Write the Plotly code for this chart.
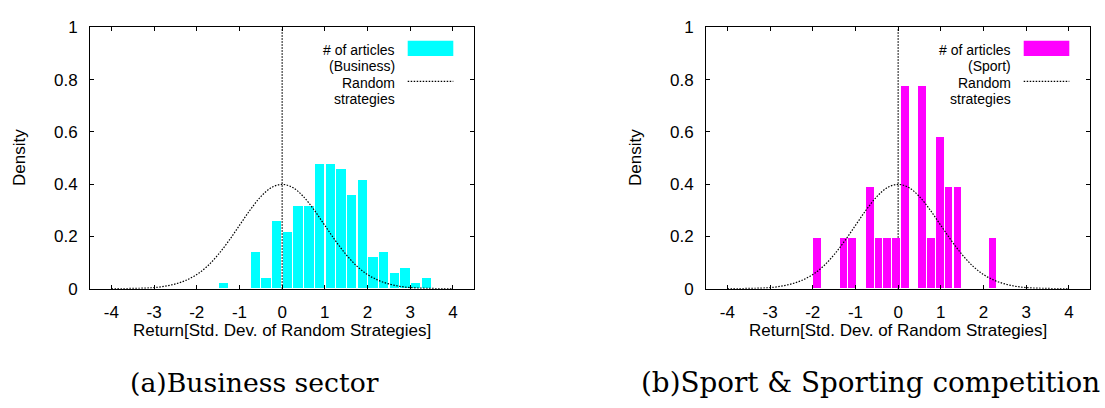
import plotly.graph_objects as go

W, H = 1105, 408

# ---------------- data ----------------
# Business sector histogram (bin width 0.25)
BUS_BIN_W = 0.25
bus_x = [-1.375, -0.625, -0.375, -0.125, 0.125, 0.375, 0.625, 0.875, 1.125,
         1.375, 1.625, 1.875, 2.125, 2.375, 2.625, 2.875, 3.125, 3.375]
bus_density = [0.019, 0.137, 0.038, 0.257, 0.217, 0.316, 0.316, 0.476, 0.476,
               0.456, 0.357, 0.416, 0.118, 0.137, 0.058, 0.078, 0.019, 0.038]

# Sport histogram (bin width ~0.205)
SPO_BIN_W = 0.205
spo_x = [-1.894, -1.279, -1.074, -0.664, -0.459, -0.254, -0.049, 0.156,
         0.566, 0.771, 0.976, 1.181, 1.386, 2.206]
spo_density = [0.193, 0.193, 0.193, 0.387, 0.193, 0.193, 0.193, 0.773,
               0.773, 0.193, 0.580, 0.387, 0.387, 0.193]

# Random strategies density curve
rand_x = [-4.0, -3.75, -3.5, -3.25, -3.0, -2.75, -2.5, -2.25, -2.0, -1.75,
          -1.5, -1.25, -1.0, -0.75, -0.5, -0.25, 0.0, 0.25, 0.5, 0.75, 1.0,
          1.25, 1.5, 1.75, 2.0, 2.25, 2.5, 2.75, 3.0, 3.25, 3.5, 3.75, 4.0]
rand_y = [0.000, 0.000, 0.001, 0.002, 0.004, 0.009, 0.018, 0.032, 0.054, 0.086,
          0.130, 0.183, 0.242, 0.301, 0.352, 0.387, 0.399, 0.387, 0.352, 0.301,
          0.242, 0.183, 0.130, 0.086, 0.054, 0.032, 0.018, 0.009, 0.004, 0.002,
          0.001, 0.000, 0.000]

x_tick_vals = [-4, -3, -2, -1, 0, 1, 2, 3, 4]
x_tick_text = ["-4", "-3", "-2", "-1", "0", "1", "2", "3", "4"]
y_tick_vals = [0, 0.2, 0.4, 0.6, 0.8, 1]
y_tick_text = ["0", "0.2", "0.4", "0.6", "0.8", "1"]

x_title = "Return[Std. Dev. of Random Strategies]"
y_title = "Density"
captions = ["(a)Business sector", "(b)Sport &amp; Sporting competition"]
legend_hist = [["# of articles", "(Business)"], ["# of articles", "(Sport)"]]
legend_rand = ["Random", "strategies"]

# ---------------- layout helpers ----------------
def px(xp):
    return xp / W

def py(yp):
    return 1 - yp / H

SANS = "Liberation Sans, Arial, Helvetica, sans-serif"
SERIF = "DejaVu Serif, serif"
AX_FS = 17
LEG_FS = 14
DOT = "1.5px,1.5px"

panels = [
    dict(left=90, right=474.3, color="#00FFFF", x=bus_x, y=bus_density, bw=BUS_BIN_W,
         cap_x=254, cap_fs=26.7),
    dict(left=706, right=1090.3, color="#FF00FF", x=spo_x, y=spo_density, bw=SPO_BIN_W,
         cap_x=870, cap_fs=27.8),
]
TOP, BOT = 19.3, 293.3

fig = go.Figure()
annotations = []
shapes = []

for i, p in enumerate(panels):
    xa = "x" if i == 0 else "x2"
    ya = "y" if i == 0 else "y2"
    fig.add_trace(go.Bar(
        x=p["x"], y=p["y"], width=[p["bw"] * 0.875] * len(p["x"]),
        marker=dict(color=p["color"], line=dict(width=0)),
        xaxis=xa, yaxis=ya, showlegend=False,
    ))
    fig.add_trace(go.Scatter(
        x=rand_x, y=rand_y, mode="lines", line_shape="spline",
        line=dict(color="black", width=1.2, dash=DOT),
        xaxis=xa, yaxis=ya, showlegend=False,
    ))
    # vertical reference line at 0
    shapes.append(dict(type="line", xref=xa, yref=ya, x0=0, x1=0, y0=0, y1=1,
                       layer="below", line=dict(color="black", width=1.2, dash=DOT)))

    cx = (p["left"] + p["right"]) / 2
    # axis titles
    annotations.append(dict(text=x_title, x=px(cx), y=py(337.5), xref="paper", yref="paper",
                            showarrow=False, font=dict(family=SANS, size=AX_FS, color="black"),
                            xanchor="center", yanchor="middle"))
    annotations.append(dict(text=y_title, x=px(p["left"] - 71), y=py((TOP + BOT) / 2),
                            xref="paper", yref="paper", textangle=-90,
                            showarrow=False, font=dict(family=SANS, size=AX_FS, color="black"),
                            xanchor="center", yanchor="middle"))
    # caption
    annotations.append(dict(text=captions[i], x=px(p["cap_x"]), y=py(392), xref="paper",
                            yref="paper", showarrow=False,
                            font=dict(family=SERIF, size=p["cap_fs"], color="black"),
                            xanchor="center", yanchor="middle"))
    # manual legend
    text_right = p["right"] - 77.6
    sw_l, sw_r = p["right"] - 66.6, p["right"] - 21
    lines = legend_hist[i] + legend_rand
    ys = [42.7, 60, 77.3, 94]
    for t, yy in zip(lines, ys):
        annotations.append(dict(text=t, x=px(text_right), y=py(yy), xref="paper", yref="paper",
                                showarrow=False, font=dict(family=SANS, size=LEG_FS, color="black"),
                                xanchor="right", yanchor="middle"))
    shapes.append(dict(type="rect", xref="paper", yref="paper",
                       x0=px(sw_l), x1=px(sw_r), y0=py(49.3), y1=py(33.3),
                       fillcolor=p["color"], line=dict(width=0)))
    shapes.append(dict(type="line", xref="paper", yref="paper",
                       x0=px(sw_l), x1=px(sw_r), y0=py(76), y1=py(76),
                       line=dict(color="black", width=1.2, dash=DOT)))

axis_common = dict(showline=True, linecolor="black", linewidth=1, mirror="ticks",
                   ticks="inside", ticklen=4, tickwidth=1, tickcolor="black",
                   showgrid=False, zeroline=False,
                   tickfont=dict(family=SANS, size=AX_FS, color="black"))

fig.update_layout(
    width=W, height=H, margin=dict(l=0, r=0, t=0, b=0),
    paper_bgcolor="white", plot_bgcolor="white",
    bargap=0, barmode="overlay",
    xaxis=dict(domain=[px(90), px(474.3)], range=[-4.5, 4.5], anchor="y",
               tickvals=x_tick_vals, ticktext=x_tick_text, ticklabelstandoff=8, **axis_common),
    yaxis=dict(domain=[py(BOT), py(TOP)], range=[0, 1], anchor="x",
               tickvals=y_tick_vals, ticktext=y_tick_text, ticklabelstandoff=8, **axis_common),
    xaxis2=dict(domain=[px(706), px(1090.3)], range=[-4.5, 4.5], anchor="y2",
                tickvals=x_tick_vals, ticktext=x_tick_text, ticklabelstandoff=8, **axis_common),
    yaxis2=dict(domain=[py(BOT), py(TOP)], range=[0, 1], anchor="x2",
                tickvals=y_tick_vals, ticktext=y_tick_text, ticklabelstandoff=8, **axis_common),
    annotations=annotations,
    shapes=shapes,
)

fig.write_html("out.html")
